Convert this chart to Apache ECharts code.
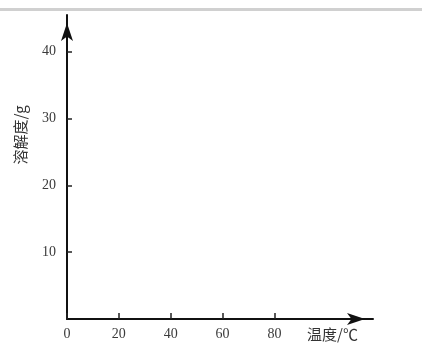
<!DOCTYPE html>
<html>
<head>
<meta charset="utf-8">
<script src="https://cdn.jsdelivr.net/npm/echarts@6/dist/echarts.min.js"></script>
<style>html,body{margin:0;padding:0;background:#fff}#c{width:422px;height:343px}</style>
</head>
<body>
<div id="c"></div>
<script>
const xTicks = [0, 20, 40, 60, 80];
const yTicks = [10, 20, 30, 40];
const xName = '温度/℃';
const yName = '溶解度/g';
const xRange = [0, 118];
const yRange = [0, 45.5];

const chart = echarts.init(document.getElementById('c'));
const labelStyle = {fontFamily: 'Liberation Serif, DejaVu Serif, serif', fontSize: 14, color: '#3a3a3a'};
chart.setOption({
  animation: false,
  backgroundColor: '#fff',
  grid: {left: 67, right: 49, top: 15, bottom: 24, containLabel: false},
  xAxis: {
    type: 'value', min: xRange[0], max: xRange[1],
    splitLine: {show: false},
    axisLine: {show: true, lineStyle: {color: '#111', width: 2}, symbol: ['none', 'arrow'], symbolSize: [9, 18], symbolOffset: [0, -8]},
    axisTick: {show: true, inside: true, length: 6, lineStyle: {color: '#222', width: 1.5}, customValues: xTicks},
    axisLabel: Object.assign({show: true, margin: 8, customValues: xTicks}, labelStyle)
  },
  yAxis: {
    type: 'value', min: yRange[0], max: yRange[1],
    splitLine: {show: false},
    axisLine: {show: true, lineStyle: {color: '#111', width: 2}, symbol: ['none', 'arrow'], symbolSize: [9, 18], symbolOffset: [0, -8]},
    axisTick: {show: true, inside: true, length: 5, lineStyle: {color: '#222', width: 1.5}, customValues: yTicks},
    axisLabel: Object.assign({show: true, margin: 11, customValues: yTicks}, labelStyle)
  },
  series: [],
  graphic: [
    {type: 'rect', left: 0, top: 8, shape: {width: 422, height: 3}, style: {fill: '#d0d0d0'}},
    {type: 'text', left: 307, top: 327, style: {text: xName, font: '15px "Noto Sans CJK SC", serif', fill: '#333'}},
    {type: 'text', x: 20, y: 135, rotation: Math.PI / 2, style: {text: yName, font: '15px "Noto Sans CJK SC", serif', fill: '#333', align: 'center', verticalAlign: 'middle'}}
  ]
});
</script>
</body>
</html>
